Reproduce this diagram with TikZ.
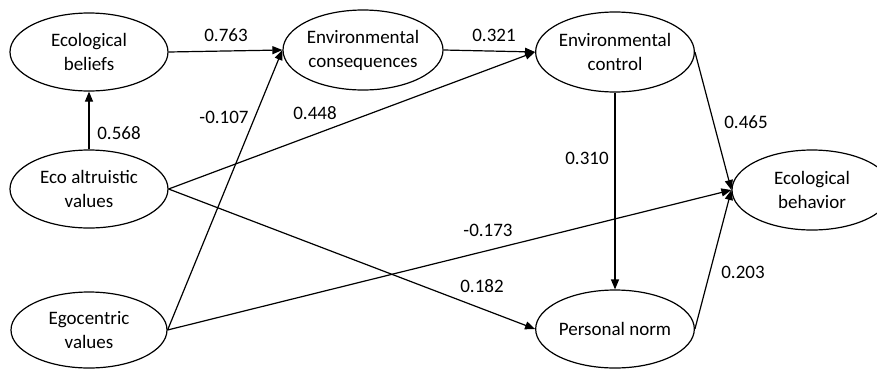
\documentclass[tikz,border=0pt]{standalone}
\usepackage{fontspec}
\setmainfont{Carlito}
\usetikzlibrary{shapes.geometric,arrows.meta}
\begin{document}
\begin{tikzpicture}[x=1pt,y=-1pt,
  latent/.style={ellipse,draw,line width=1.2pt,inner sep=0pt,align=center,
    font=\fontsize{19}{24}\selectfont,minimum width=158pt,minimum height=78pt},
  path/.style={line width=1.2pt,-{Triangle[length=10pt,width=8pt]}},
  coef/.style={font=\fontsize{19}{24}\selectfont,inner sep=0pt}]
\useasboundingbox (0,0) rectangle (877,370);
\node[latent] (eb) at (89,52) {Ecological\\beliefs};
\node[latent,minimum width=160pt,minimum height=80pt] (ec) at (363,50) {Environmental\\consequences};
\node[latent,minimum width=156pt,minimum height=80pt] (ectl) at (615,52) {Environmental\\control};
\node[latent] (ea) at (89,189) {Eco altruistic\\values};
\node[latent,minimum width=156pt,minimum height=76pt] (ego) at (89,330) {Egocentric\\values};
\node[latent,minimum width=156pt] (pn) at (615,329) {Personal norm};
\node[latent,minimum width=160pt,minimum height=80pt] (ebh) at (812,190) {Ecological\\behavior};
\draw[path] (eb.east) -- (ec.west);
\draw[path] (ea.north) -- (eb.south);
\draw[path] (ego.east) -- (ec.west);
\draw[path] (ea.east) -- (ectl.west);
\draw[path] (ec.east) -- (ectl.west);
\draw[path] (ectl.south) -- (pn.north);
\draw[path] (ectl.east) -- (ebh.west);
\draw[path] (ea.east) -- (pn.west);
\draw[path] (ego.east) -- (ebh.west);
\draw[path] (pn.east) -- (ebh.west);
\node[coef] (c1) at (226,35) {0.763};
\node[coef] (c2) at (119,133) {0.568};
\node[coef] (c3) at (224,117) {-0.107};
\node[coef] (c4) at (315,113) {0.448};
\node[coef] (c5) at (494,35) {0.321};
\node[coef] (c6) at (746,122) {0.465};
\node[coef] (c7) at (587,158) {0.310};
\node[coef] (c8) at (488,230) {-0.173};
\node[coef] (c9) at (482,286) {0.182};
\node[coef] (c10) at (743,272) {0.203};
\end{tikzpicture}
\end{document}
